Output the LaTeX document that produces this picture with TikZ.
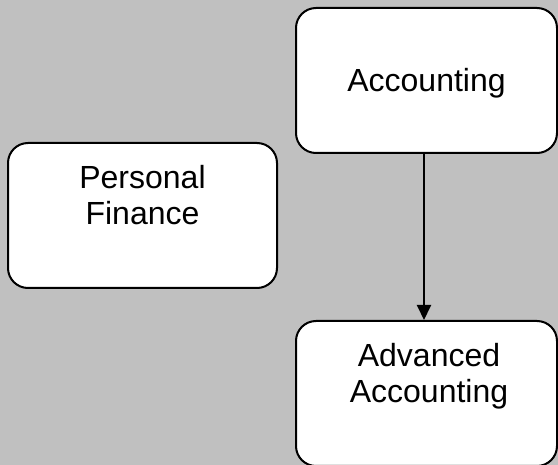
\documentclass[tikz,border=0pt]{standalone}
\usepackage{fontspec}
\setmainfont{Liberation Sans}
\usetikzlibrary{arrows.meta}
\definecolor{bggray}{HTML}{C0C0C0}
\tikzset{
  box/.style={draw=black, fill=white, line width=2pt, rounded corners=20pt, inner sep=0pt},
  lbl/.style={font=\fontsize{32}{36}\selectfont, align=center, anchor=base, inner sep=0pt},
  conn/.style={line width=2pt, -{Triangle[width=14pt,length=15pt]}}
}
\begin{document}
\begin{tikzpicture}[x=1pt,y=-1pt]
\fill[bggray] (0,0) rectangle (558,465);
\useasboundingbox (0,0) rectangle (558,465);
\begin{scope}
\clip (0,0) rectangle (558,465);
\node[box, minimum width=261pt, minimum height=145pt] (acc) at (426.5,80.5) {};
\node[box, minimum width=269pt, minimum height=145pt] (pf) at (142.5,215.5) {};
\node[box, minimum width=261pt, minimum height=145pt] (adv) at (426.5,393.5) {};
\end{scope}
\node[lbl] (acct) at (426.5,91.7) {Accounting};
\node[lbl] (pft) at (142.5,225) {Personal\\Finance};
\node[lbl] (advt) at (429,403) {Advanced\\Accounting};
\coordinate (a1) at (acc.south -| 424,0);
\coordinate (a2) at (adv.north -| 424,0);
\draw[conn] (a1) -- (a2);
\end{tikzpicture}
\end{document}
